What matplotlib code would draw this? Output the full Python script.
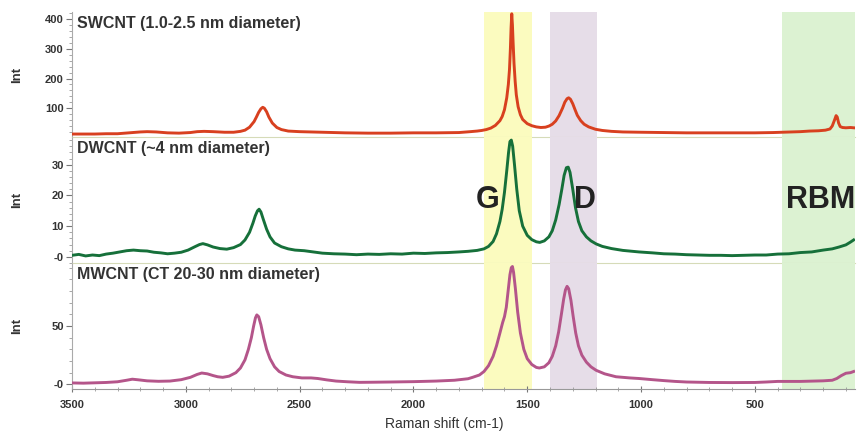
import matplotlib
matplotlib.use("Agg")
import matplotlib.pyplot as plt
from matplotlib.ticker import MultipleLocator, FixedLocator

plt.rcParams['font.family'] = ['Liberation Sans', 'DejaVu Sans']

# ---------------- data ----------------
sw_x = [3500, 3450, 3400, 3350, 3300, 3250, 3200, 3170, 3130, 3080, 3030, 2980, 2950, 2920, 2880,
        2830, 2790, 2760, 2740, 2720, 2700, 2690, 2680, 2670, 2662, 2655, 2645, 2635, 2620, 2600,
        2580, 2550, 2500, 2450, 2400, 2350, 2300, 2200, 2100, 2000, 1900, 1800, 1750, 1720, 1700,
        1680, 1660, 1640, 1620, 1610, 1600, 1590, 1583, 1578, 1574, 1571, 1568, 1565, 1562, 1558,
        1553, 1548, 1540, 1530, 1520, 1500, 1480, 1460, 1440, 1420, 1404, 1390, 1375, 1360, 1345,
        1335, 1325, 1318, 1310, 1300, 1290, 1280, 1265, 1250, 1230, 1200, 1170, 1130, 1080, 1000,
        900, 800, 700, 600, 500, 420, 380, 340, 300, 260, 220, 190, 170, 160, 150, 143, 138, 132,
        125, 115, 100, 80, 66]
sw_y = [13, 13, 13, 14, 14, 17, 20, 21, 20, 17, 16, 18, 21, 22, 21,
        19, 19, 22, 26, 36, 55, 70, 86, 98, 103, 100, 88, 70, 50, 35,
        28, 23, 21, 20, 19, 18, 17, 16, 16, 17, 17, 18, 21, 23, 25,
        28, 33, 42, 58, 72, 95, 135, 180, 230, 300, 370, 418, 380, 320, 250,
        190, 145, 105, 78, 62, 48, 41, 37, 35, 36, 40, 46, 57, 75, 100,
        120, 132, 135, 130, 115, 95, 76, 58, 46, 37, 29, 25, 22, 20, 19,
        18, 17, 17, 17, 17, 18, 19, 20, 21, 23, 24, 26, 30, 40, 60, 75, 70, 50,
        38, 35, 34, 35, 34]

dw_x = [3500, 3470, 3440, 3410, 3380, 3350, 3320, 3290, 3260, 3230, 3200, 3170, 3140, 3110, 3080,
        3050, 3020, 2990, 2960, 2940, 2925, 2905, 2880, 2850, 2820, 2790, 2760, 2740, 2720, 2705,
        2695, 2685, 2678, 2670, 2660, 2645, 2630, 2610, 2580, 2550, 2520, 2480, 2440, 2400, 2350,
        2300, 2250, 2200, 2150, 2100, 2050, 2000, 1950, 1900, 1850, 1800, 1760, 1720, 1690, 1670,
        1650, 1635, 1620, 1610, 1600, 1590, 1582, 1576, 1570, 1564, 1556, 1546, 1535, 1520, 1500,
        1480, 1460, 1445, 1425, 1405, 1390, 1375, 1360, 1348, 1338, 1328, 1320, 1312, 1300, 1288,
        1275, 1260, 1240, 1220, 1197, 1170, 1130, 1080, 1009, 950, 900, 850, 800, 750, 700,
        650, 600, 550, 500, 450, 400, 350, 300, 250, 200, 160, 130, 100, 80, 66]
dw_y = [0.5, 0.8, 0.3, 0.6, 0.4, 0.9, 1.2, 1.6, 2.0, 2.2, 2.0, 1.9, 1.5, 1.3, 1.0,
        1.2, 1.5, 2.2, 3.3, 4.0, 4.3, 3.9, 3.2, 2.7, 2.5, 3.0, 4.0, 5.5, 8.0, 11.0,
        13.3, 15.0, 15.5, 14.6, 12.3, 9.0, 6.5, 4.5, 3.3, 2.6, 2.2, 2.0, 1.6, 1.2, 1.0,
        0.9, 0.7, 0.9, 0.8, 1.0, 0.9, 1.2, 1.1, 1.3, 1.4, 1.6, 1.8, 2.1, 2.6, 3.4,
        5.0, 7.5, 11.5, 15.5, 21.0, 28.0, 34.0, 37.5, 38.0, 36.0, 30.0, 22.0, 15.0, 10.0, 7.0,
        5.6, 4.9, 4.7, 5.2, 6.5, 8.5, 12.0, 17.0, 22.0, 26.5, 29.0, 29.2, 27.5, 22.0, 16.0,
        11.5, 8.5, 6.5, 5.2, 4.2, 3.4, 2.7, 2.1, 1.6, 1.3, 1.0, 0.9, 0.7, 0.6, 0.5,
        0.5, 0.4, 0.5, 0.6, 0.6, 0.9, 1.0, 1.4, 1.6, 2.2, 2.6, 3.2, 3.9, 4.8, 5.5]

mw_x = [3500, 3450, 3400, 3350, 3300, 3260, 3235, 3210, 3170, 3120, 3070, 3020, 2980, 2950, 2930,
        2905, 2880, 2860, 2838, 2810, 2780, 2760, 2740, 2725, 2712, 2702, 2694, 2688, 2680, 2670,
        2658, 2645, 2630, 2610, 2590, 2560, 2530, 2490, 2450, 2420, 2380, 2340, 2290, 2237, 2180,
        2100, 2000, 1900, 1820, 1760, 1740, 1710, 1690, 1670, 1650, 1635, 1620, 1608, 1600, 1592,
        1584, 1576, 1570, 1565, 1560, 1552, 1542, 1530, 1515, 1500, 1480, 1460, 1447, 1425, 1405,
        1390, 1375, 1362, 1350, 1340, 1332, 1325, 1318, 1308, 1298, 1287, 1275, 1260, 1240, 1220,
        1197, 1160, 1110, 1050, 1009, 950, 900, 850, 800, 700, 600, 500, 450, 400, 350,
        300, 200, 160, 140, 120, 100, 80, 66]
mw_y = [1.2, 1.0, 1.3, 1.6, 2.2, 3.5, 4.4, 3.9, 3.0, 2.6, 2.8, 4.0, 6.0, 8.5, 9.7,
        9.0, 7.5, 6.5, 6.0, 7.0, 10, 14, 21, 30, 40, 50, 57, 59.5, 58, 51,
        40, 30, 22, 15, 11, 8, 6.5, 5.5, 5.5, 5.0, 3.8, 2.8, 2.2, 1.7, 1.8,
        2.0, 2.3, 2.8, 3.5, 4.8, 6, 8, 11, 16, 24, 33, 44, 53, 58, 66,
        80, 94, 100, 101, 96, 82, 62, 44, 30, 22, 17, 14.5, 14, 15, 18.5,
        24, 33, 45, 60, 73, 81, 84, 82, 72, 58, 44, 33, 25, 19, 15,
        12, 9, 6.5, 5.5, 5, 4, 3.2, 2.5, 2, 1.6, 1.5, 1.6, 2, 2.5, 2.5,
        2.5, 3, 3.5, 5, 7.5, 9.5, 10, 11]

titles = ["SWCNT (1.0-2.5 nm diameter)", "DWCNT (~4 nm diameter)", "MWCNT (CT 20-30 nm diameter)"]
colors = ["#d8401f", "#16703a", "#b4558a"]
ylims = [(3, 424), (-2, 39), (-4, 104)]
major_ticks = [[100, 200, 300, 400], [0, 10, 20, 30], [0, 50]]
major_labels = [["100", "200", "300", "400"], ["-0", "10", "20", "30"], ["-0", "50"]]
minor_steps = [20, 2, 10]

x_ticks = [3500, 3000, 2500, 2000, 1500, 1000, 500]
bands = [(1690, 1480, "#fbfbbf"), (1400, 1195, "#e6dde8"), (382, 60, "#dcf2d2")]
band_labels = [("G", 1675), ("D", 1245), ("RBM", 212)]

# ---------------- figure ----------------
fig = plt.figure(figsize=(8.61, 4.33), dpi=100)
W, H = 861, 433
left, right = 72 / W, 855 / W
edges = [12, 137, 263, 389]
axes = []
for i in range(3):
    top, bot = edges[i], edges[i + 1]
    ax = fig.add_axes([left, 1 - bot / H, right - left, (bot - top) / H])
    axes.append(ax)

series = [(sw_x, sw_y), (dw_x, dw_y), (mw_x, mw_y)]
for i, ax in enumerate(axes):
    for (a, b, c) in bands:
        ax.axvspan(a, b, color=c, lw=0, zorder=0)
    xs, ys = series[i]
    ax.plot(xs, ys, color=colors[i], lw=2.1, zorder=3, solid_joinstyle='round')
    ax.set_xlim(3500, 60)
    ax.set_ylim(*ylims[i])
    ax.yaxis.set_major_locator(FixedLocator(major_ticks[i]))
    ax.set_yticklabels(major_labels[i])
    ax.yaxis.set_minor_locator(MultipleLocator(minor_steps[i]))
    ax.tick_params(axis='y', which='major', length=4, width=0.8, color='#777777',
                   labelsize=8, pad=2, labelcolor='#333333')
    ax.tick_params(axis='y', which='minor', length=2, width=0.6, color='#999999')
    for lab in ax.get_yticklabels():
        lab.set_fontweight('bold')
    ax.spines['top'].set_visible(False)
    ax.spines['right'].set_visible(False)
    ax.spines['left'].set_color('#aaaaaa')
    ax.spines['left'].set_linestyle((0, (1, 1)))
    ax.spines['left'].set_linewidth(0.8)
    ax.set_facecolor('none')
    ax.text(0.006, 0.965, titles[i], transform=ax.transAxes, ha='left', va='top',
            fontsize=11.5, fontweight='bold', color='#333333', zorder=5)
    ax.set_ylabel("Int", fontsize=9.5, fontweight='bold', color='#333333')
    ax.yaxis.set_label_coords(-0.062, 0.5)
    if i < 2:
        ax.spines['bottom'].set_color('#d6dbb8')
        ax.spines['bottom'].set_linewidth(0.8)
        ax.tick_params(axis='x', which='both', bottom=False, labelbottom=False)
    else:
        ax.spines['bottom'].set_color('#999999')
        ax.spines['bottom'].set_linewidth(0.8)
        ax.xaxis.set_major_locator(FixedLocator(x_ticks))
        ax.xaxis.set_minor_locator(MultipleLocator(100))
        ax.tick_params(axis='x', which='major', length=4, width=0.8, color='#777777',
                       labelsize=8, pad=6, labelcolor='#333333', direction='inout')
        ax.tick_params(axis='x', which='minor', length=3, width=0.6, color='#999999',
                       direction='inout')
        for lab in ax.get_xticklabels():
            lab.set_fontweight('bold')

# band labels in the middle panel
for txt, xv in band_labels:
    axes[1].text(xv, 18.5, txt, ha='center', va='center', fontsize=22, fontweight='bold',
                 color='#222222', zorder=6)

fig.text(444 / W, 1 - 424 / H, "Raman shift (cm-1)", ha='center', va='center',
         fontsize=10, color='#333333')

fig.savefig("out.png", dpi=100)
